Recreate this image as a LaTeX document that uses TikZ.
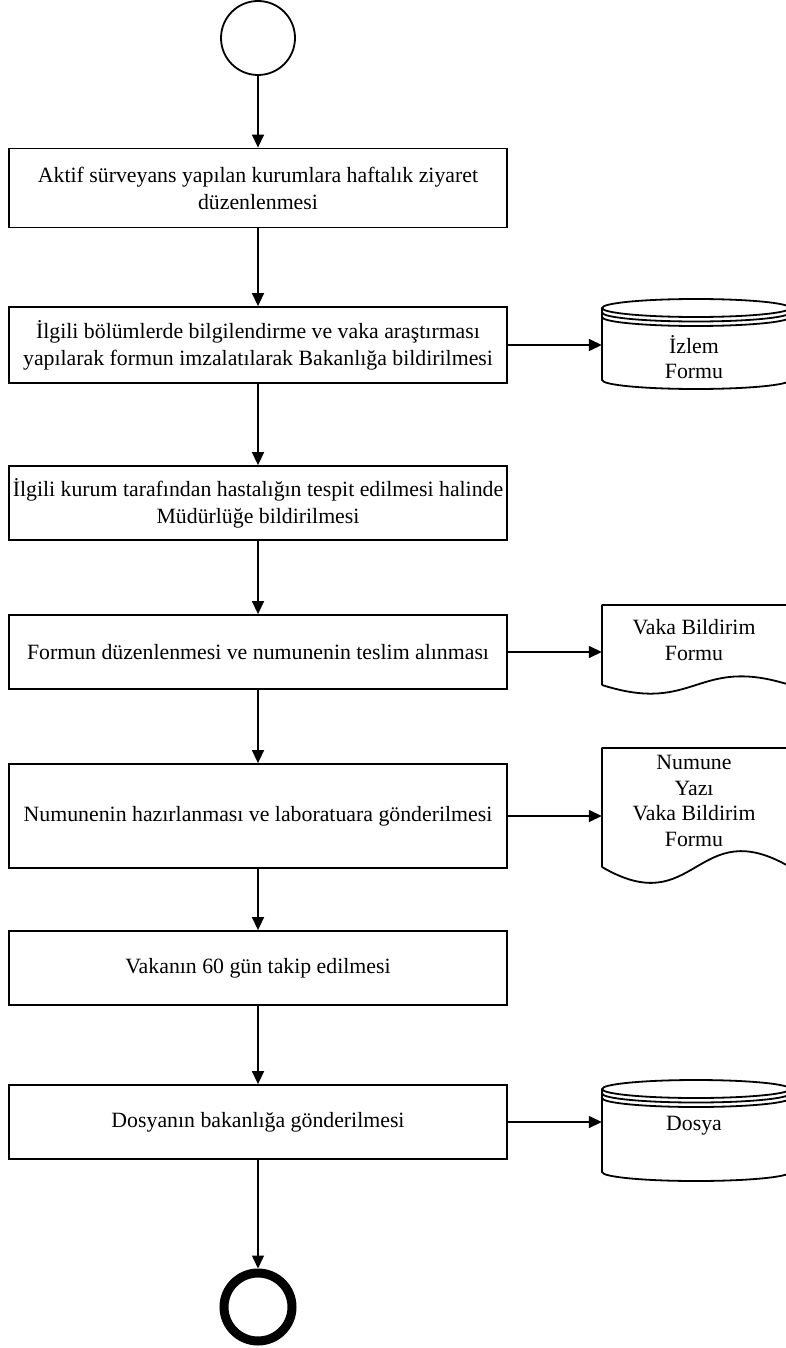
\documentclass[tikz,border=0pt]{standalone}
\usepackage{fontspec}
\setmainfont{Liberation Serif}
\usetikzlibrary{arrows.meta}

% cylinder (stored data) outline: left, top, right, bottom
\newcommand\drawdb[4]{%
  \pgfmathsetmacro\dbcx{(#1+#3)/2}%
  \pgfmathsetmacro\dbrx{(#3-#1)/2}%
  \draw[outline] (\dbcx,#2+9) ellipse [x radius=\dbrx, y radius=9];
  \draw[outline] (#1,#2+9) -- (#1,#4-9)
     arc[start angle=180, end angle=0, x radius=\dbrx, y radius=9] -- (#3,#2+9);
  \draw[outline] (#1,#2+9+4.5) arc[start angle=180, end angle=0, x radius=\dbrx, y radius=9];
  \draw[outline] (#1,#2+9+9) arc[start angle=180, end angle=0, x radius=\dbrx, y radius=9];
}
% document outline with wavy bottom: left, top, right, bottom of straight side, wave depth
\newcommand\drawdoc[5]{%
  \pgfmathsetmacro\dcw{#3-#1}%
  \draw[outline] (#1,#4) -- (#1,#2) -- (#3,#2) -- (#3,#4)
     .. controls (#1+0.5*\dcw,#4-#5) and (#1+0.5*\dcw,#4+#5) .. (#1,#4);
}

\begin{document}
\begin{tikzpicture}[x=1pt,y=-1pt,
  every node/.style={font=\fontsize{21.8}{27}\selectfont},
  proc/.style={draw, line width=1.8pt, minimum width=498pt, inner sep=0pt, align=center},
  outline/.style={line width=1.8pt, line join=round},
  flow/.style={line width=1.5pt, -{Triangle[length=13pt,width=12pt]}},
  holder/.style={inner sep=0pt, minimum width=188pt},
  txt/.style={align=center, inner sep=0pt, font=\fontsize{21.8}{25.5}\selectfont}
]
\useasboundingbox (0,0) rectangle (786,1348);

% start and end events
\node[circle, draw, line width=1.8pt, minimum size=74pt, inner sep=0pt] (s) at (258,38) {};
\node[circle, draw, line width=9pt, minimum size=68pt, inner sep=0pt] (e) at (258,1307) {};

% process steps
\node[proc, minimum height=79pt] (b1) at (258,188)
  {Aktif sürveyans yapılan kurumlara haftalık ziyaret\\düzenlenmesi};
\node[proc, minimum height=76pt] (b2) at (258,345)
  {İlgili bölümlerde bilgilendirme ve vaka araştırması\\yapılarak formun imzalatılarak Bakanlığa bildirilmesi};
\node[proc, minimum height=74pt] (b3) at (258,503)
  {İlgili kurum tarafından hastalığın tespit edilmesi halinde\\Müdürlüğe bildirilmesi};
\node[proc, minimum height=74pt] (b4) at (258,652)
  {Formun düzenlenmesi ve numunenin teslim alınması};
\node[proc, minimum height=104pt] (b5) at (258,816)
  {Numunenin hazırlanması ve laboratuara gönderilmesi};
\node[proc, minimum height=74pt] (b6) at (258,968)
  {Vakanın 60 gün takip edilmesi};
\node[proc, minimum height=74pt] (b7) at (258,1122)
  {Dosyanın bakanlığa gönderilmesi};

% side records
\node[holder, minimum height=90pt] (d1) at (696,345) {};
\drawdb{602}{299}{790}{389}
\node[txt] (d1t) at (694,357) {İzlem\\Formu};

\node[holder, minimum height=80pt] (d2) at (696,645) {};
\drawdoc{602}{605}{790}{685}{30}
\node[txt] (d2t) at (694,640) {Vaka Bildirim\\Formu};

\node[holder, minimum height=119pt] (d3) at (696,807) {};
\drawdoc{602}{748}{790}{867}{55}
\node[txt] (d3t) at (694,801) {Numune\\Yazı\\Vaka Bildirim\\Formu};

\node[holder, minimum height=101pt] (d4) at (696,1130) {};
\drawdb{602}{1080}{790}{1181}
\node[txt] (d4t) at (694,1126) {Dosya};

% main flow
\draw[flow] (s) -- (b1);
\draw[flow] (b1) -- (b2);
\draw[flow] (b2) -- (b3);
\draw[flow] (b3) -- (b4);
\draw[flow] (b4) -- (b5);
\draw[flow] (b5) -- (b6);
\draw[flow] (b6) -- (b7);
\draw[flow] (b7) -- (e);

% records produced
\draw[flow] (b2.east) -- (b2.east -| d1.west);
\draw[flow] (b4.east) -- (b4.east -| d2.west);
\draw[flow] (b5.east) -- (b5.east -| d3.west);
\draw[flow] (b7.east) -- (b7.east -| d4.west);
\end{tikzpicture}
\end{document}
